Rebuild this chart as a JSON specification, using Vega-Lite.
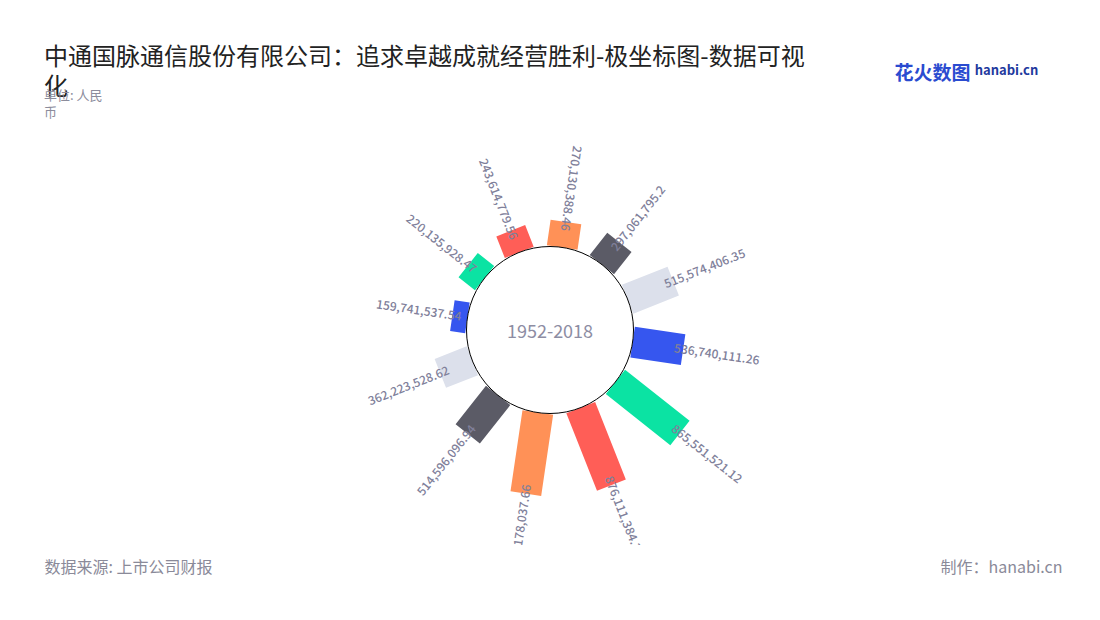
{
  "$schema": "https://vega.github.io/schema/vega-lite/v6.json",
  "width": 1012,
  "height": 430,
  "autosize": {"type": "none"},
  "padding": {"left": 44, "top": 115, "right": 44, "bottom": 75},
  "background": "#ffffff",
  "config": {"view": {"stroke": null}, "font": "Noto Sans CJK SC"},
  "title": {
    "text": ["中通国脉通信股份有限公司：追求卓越成就经营胜利-极坐标图-数据可视", "化"],
    "subtitle": ["单位: 人民", "币"],
    "anchor": "start",
    "frame": "group",
    "font": "Noto Sans CJK SC",
    "fontSize": 24,
    "fontWeight": "normal",
    "color": "#222222",
    "lineHeight": 30,
    "subtitleFont": "Noto Sans CJK SC",
    "subtitleFontSize": 13,
    "subtitleColor": "#8c8c9c",
    "subtitleLineHeight": 17,
    "subtitlePadding": -10,
    "offset": 0,
    "dy": 56
  },
  "datasets": {
    "bars": [
      {"i": 1, "value": 270130388.46},
      {"i": 2, "value": 297061795.2},
      {"i": 3, "value": 515574406.35},
      {"i": 4, "value": 536740111.26},
      {"i": 5, "value": 865551521.12},
      {"i": 6, "value": 876111384.3},
      {"i": 7, "value": 861178037.66},
      {"i": 8, "value": 514596096.94},
      {"i": 9, "value": 362223528.62},
      {"i": 10, "value": 159741537.54},
      {"i": 11, "value": 220135928.47},
      {"i": 12, "value": 243614779.56}
    ],
    "center": [{"period": "1952-2018"}],
    "notes": [{"note": "数据来源: 上市公司财报"}, {"note": "制作：hanabi.cn"}],
    "brand": [{"brand": "花火数图"}, {"brand": "hanabi.cn"}]
  },
  "layer": [
    {
      "data": {"name": "bars"},
      "mark": {"type": "arc", "filled": false, "strokeWidth": 31, "strokeJoin": "miter"},
      "encoding": {
        "theta": {"field": "i", "type": "ordinal", "scale": {"type": "band", "domain": [1,2,3,4,5,6,7,8,9,10,11,12], "range": [-0.1152, 6.168], "paddingInner": 1, "paddingOuter": 0.5}},
        "radius": {"field": "value", "type": "quantitative", "scale": {"type": "linear", "domain": [0, 1000000000], "range": [83.5, 178.6]}},
        "radius2": {"datum": 0},
        "color": {"field": "i", "type": "nominal", "scale": {"domain": [1,2,3,4,5,6,7,8,9,10,11,12], "range": ["#FF9157","#5B5B66","#DCE0EB","#3656EF","#0BE3A3","#FF5E57","#FF9157","#5B5B66","#DCE0EB","#3656EF","#0BE3A3","#FF5E57"]}, "legend": null}
      }
    },
    {
      "data": {"name": "center"},
      "mark": {"type": "arc", "theta": 0, "theta2": 6.2832, "radius": 83.5, "radius2": 0, "fill": "#ffffff", "stroke": "#000000", "strokeWidth": 1},
      "encoding": {}
    },
    {
      "data": {"name": "center"},
      "mark": {"type": "text", "fontSize": 18, "color": "#8d8da3", "baseline": "middle", "dy": 3},
      "encoding": {"text": {"field": "period"}}
    },
    {
      "data": {"name": "bars"},
      "transform": [{"filter": "datum.i >= 2 && datum.i <= 6"}],
      "mark": {"type": "text", "align": "left", "baseline": "middle", "fontSize": 12, "fontWeight": 500, "color": "#80809a", "radiusOffset": -9, "clip": true},
      "encoding": {
        "theta": {"field": "i", "type": "ordinal"},
        "radius": {"field": "value", "type": "quantitative"},
        "angle": {"field": "i", "type": "quantitative", "scale": {"type": "linear", "domain": [1, 13], "range": [-81.6, 278.4]}},
        "text": {"field": "value", "type": "quantitative", "format": ",.2~f"}
      }
    },
    {
      "data": {"name": "bars"},
      "transform": [{"filter": "datum.i < 2 || datum.i > 6"}],
      "mark": {"type": "text", "align": "right", "baseline": "middle", "fontSize": 12, "fontWeight": 500, "color": "#80809a", "radiusOffset": -9, "clip": true},
      "encoding": {
        "theta": {"field": "i", "type": "ordinal"},
        "radius": {"field": "value", "type": "quantitative"},
        "angle": {"field": "i", "type": "quantitative", "scale": {"type": "linear", "domain": [1, 13], "range": [98.4, 458.4]}},
        "text": {"field": "value", "type": "quantitative", "format": ",.2~f"}
      }
    },
    {
      "data": {"name": "notes"},
      "mark": {"type": "text", "text": ""},
      "encoding": {
        "x": {"field": "note", "type": "nominal",
          "scale": {"type": "point", "padding": 0, "domain": ["数据来源: 上市公司财报", "制作：hanabi.cn"], "range": [0, 1018]},
          "axis": {"orient": "bottom", "title": null, "domain": false, "ticks": false, "grid": false, "labelAngle": 0,
            "labelFontSize": 16, "labelColor": "#8a8a99", "labelPadding": 22, "labelBaseline": "middle", "labelLimit": 400,
            "labelAlign": {"condition": {"test": "datum.value === '制作：hanabi.cn'", "value": "right"}, "value": "left"}}}
      }
    },
    {
      "data": {"name": "brand"},
      "mark": {"type": "text", "text": ""},
      "encoding": {
        "x": {"field": "brand", "type": "nominal",
          "scale": {"type": "point", "padding": 0, "domain": ["花火数图", "hanabi.cn"], "range": [888, 962]},
          "axis": {"orient": "top", "title": null, "domain": false, "ticks": false, "grid": false, "labelAngle": 0,
            "labelBaseline": "middle", "labelFontWeight": "bold", "labelLimit": 200,
            "labelColor": {"condition": {"test": "datum.value === '花火数图'", "value": "#2a4bd0"}, "value": "#1f3a9e"},
            "labelPadding": {"condition": {"test": "datum.value === '花火数图'", "value": 42}, "value": 45},
            "labelFontSize": {"condition": {"test": "datum.value === '花火数图'", "value": 19}, "value": 13}}}
      }
    }
  ],
  "resolve": {"scale": {"angle": "independent", "x": "independent"}, "axis": {"x": "independent"}}
}
